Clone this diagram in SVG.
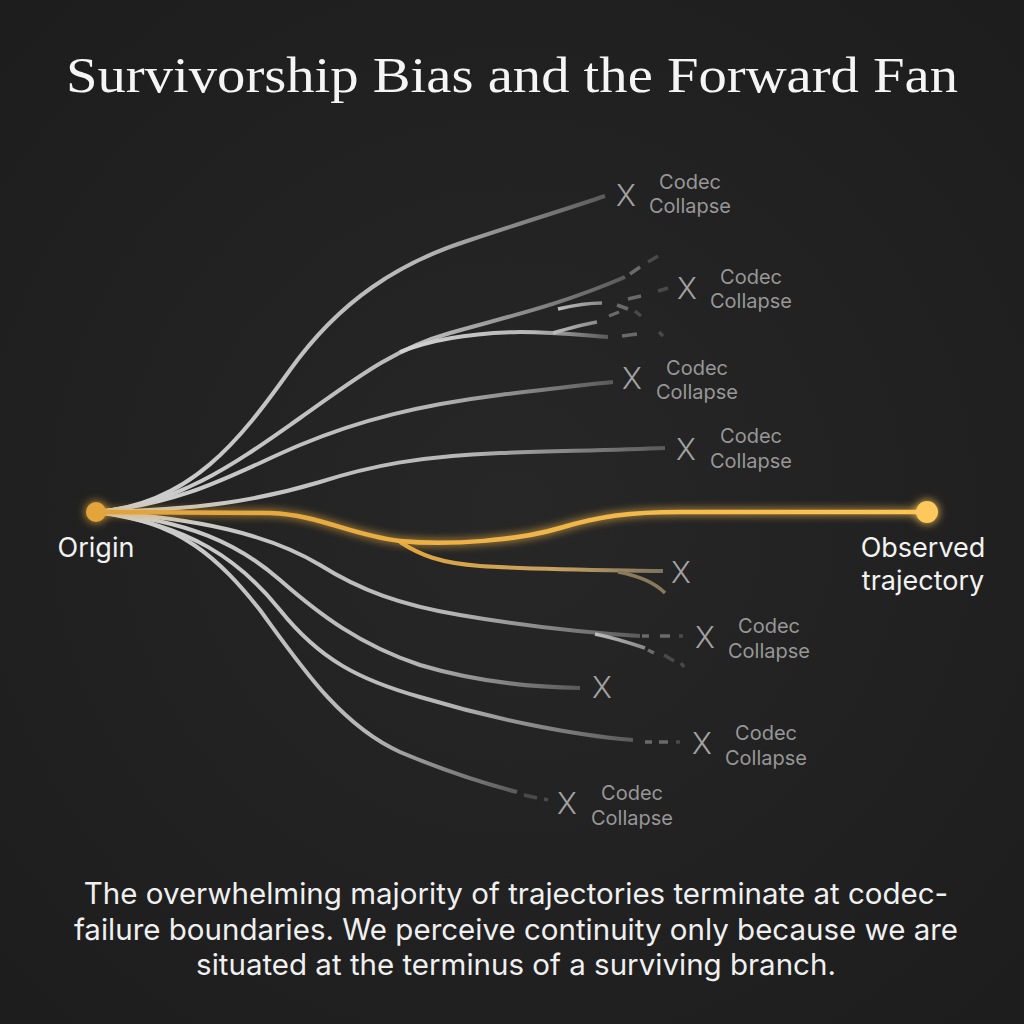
<svg xmlns="http://www.w3.org/2000/svg" width="1024" height="1024" viewBox="0 0 1024 1024">
<defs>
  <radialGradient id="bg" cx="50%" cy="50%" r="75%">
    <stop offset="0" stop-color="#272727"/>
    <stop offset="1" stop-color="#1c1c1c"/>
  </radialGradient>
  <linearGradient id="fade" x1="0" y1="0" x2="1" y2="0">
    <stop offset="0" stop-color="#d2d2d2"/>
    <stop offset="0.65" stop-color="#b6b6b6"/>
    <stop offset="1" stop-color="#5a5a5a"/>
  </linearGradient>
  <linearGradient id="fade2" x1="0" y1="0" x2="1" y2="0">
    <stop offset="0" stop-color="#bdbdbd"/>
    <stop offset="1" stop-color="#8a8a8a"/>
  </linearGradient>
  <linearGradient id="goldfade" x1="0" y1="0" x2="1" y2="0">
    <stop offset="0" stop-color="#e3a63c"/>
    <stop offset="0.6" stop-color="#c7a060"/>
    <stop offset="1" stop-color="#7d7360"/>
  </linearGradient>
  <linearGradient id="goldmain" x1="0" y1="0" x2="1" y2="0">
    <stop offset="0" stop-color="#e0a23a"/>
    <stop offset="1" stop-color="#ffc655"/>
  </linearGradient>
  <filter id="glow" x="-20%" y="-50%" width="140%" height="200%">
    <feGaussianBlur in="SourceGraphic" stdDeviation="4" result="b"/>
    <feMerge><feMergeNode in="b"/><feMergeNode in="SourceGraphic"/></feMerge>
  </filter>
  <filter id="dotglow" x="-200%" y="-200%" width="500%" height="500%">
    <feGaussianBlur in="SourceGraphic" stdDeviation="5" result="b"/>
    <feMerge><feMergeNode in="b"/><feMergeNode in="SourceGraphic"/></feMerge>
  </filter>
  <style>
    .br{fill:none;stroke:url(#fade);stroke-width:4;stroke-linecap:butt}
    .sb{fill:none;stroke:url(#fade2);stroke-width:3.5}
    .d{fill:none;stroke:#6a6a6a;stroke-width:3.5}
    .d2{fill:none;stroke:#4a4a4a;stroke-width:3.5}
    .x{font-family:Inter,"Liberation Sans",sans-serif;font-size:30px;font-weight:300;fill:#a2a2a2;text-anchor:middle}
    .lab{font-family:Inter,"Liberation Sans",sans-serif;font-size:20px;fill:#979797;text-anchor:middle}
    .w{font-family:Inter,"Liberation Sans",sans-serif;font-size:27px;fill:#f2f2f2;text-anchor:middle}
    .cap{font-family:Inter,"Liberation Sans",sans-serif;font-size:29.5px;fill:#f0f0f0;text-anchor:middle}
  </style>
</defs>
<rect width="1024" height="1024" fill="url(#bg)"/>

<text x="512" y="92" text-anchor="middle" font-family="'Liberation Serif','DejaVu Serif',serif" font-size="50" fill="#f5f5f5" textLength="892" lengthAdjust="spacingAndGlyphs">Survivorship Bias and the Forward Fan</text>

<g id="connectors">
  <!-- upper branches -->
  <path class="br" d="M96,512 C190,505 240,440 290,370 C340,300 400,262 470,240 C530,220 570,208 605,196"/>
  <path class="br" d="M96,512 C180,505 240,460 300,418 C350,383 390,350 450,333 C510,316 560,305 625,277"/>
  <path class="sb" d="M558,309 C575,305 590,303 602,303"/>
  <path class="br" d="M400,352 C430,340 470,333 520,332 C560,332 590,336 608,337"/>
  <path class="sb" d="M553,333 C570,328 585,324 597,322"/>
  <path class="br" d="M96,512 C190,503 240,470 300,445 C360,420 420,405 500,395 C560,388 590,384 613,382"/>
  <path class="br" d="M96,512 C200,510 260,500 320,482 C370,466 420,456 500,453 C560,451 620,450 665,448"/>
  <!-- dashes upper -->
  <path class="d" d="M630,274 L640,267"/>
  <path class="d2" d="M648,262 L658,256"/>
  <path class="d" d="M628,299 L641,296"/>
  <path class="d2" d="M658,291 L668,288"/>
  <path class="d" d="M609,316 L619,312"/>
  <path class="d" d="M617,305 L628,309"/>
  <path class="d2" d="M635,311 L641,316"/>
  <path class="d" d="M622,336 L637,334"/>
  <path class="d2" d="M659,332 L663,336"/>

  <!-- lower branches -->
  <path class="br" d="M96,512 C200,518 270,535 320,565 C360,590 400,605 460,615 C530,627 590,633 640,636"/>
  <path class="sb" d="M595,634 C615,638 630,643 645,648"/>
  <path class="br" d="M96,512 C190,520 240,545 280,580 C320,615 360,645 420,665 C470,680 520,687 580,688"/>
  <path class="br" d="M96,512 C190,525 240,560 280,610 C320,660 360,680 420,697 C490,718 570,735 633,740"/>
  <path class="br" d="M96,512 C180,520 220,560 260,610 C300,665 340,725 400,752 C450,773 490,785 517,792"/>
  <!-- dashes lower -->
  <path class="d" d="M642,636 L649,636"/>
  <path class="d" d="M660,636 L670,636"/>
  <path class="d2" d="M679,636 L683,636"/>
  <path class="d" d="M648,650 L654,653"/>
  <path class="d2" d="M664,655 L674,661"/>
  <path class="d2" d="M681,663 L684,667"/>
  <path class="d" d="M645,742 L652,742"/>
  <path class="d" d="M659,742 L668,742"/>
  <path class="d2" d="M676,742 L680,742"/>
  <path class="d2" d="M524,795 L537,798"/>
  <path class="d2" d="M544,799 L548,800"/>

  <!-- golden branch -->
  <path fill="none" stroke="url(#goldfade)" stroke-width="4" d="M400,542 C420,555 440,563 480,566 C540,570 600,570 663,571"/>
  <path fill="none" stroke="#8a7a5c" stroke-width="3.5" d="M618,572 C640,576 655,583 665,593"/>
  <!-- golden main -->
  <path fill="none" stroke="url(#goldmain)" stroke-width="4.5" filter="url(#glow)" d="M96,512 L270,513 C320,515 350,535 400,541 C450,546 520,540 560,528 C600,516 630,512 680,512 L925,512"/>
</g>

<g id="origin">
  <circle cx="96" cy="512" r="10" fill="#e3a43a" filter="url(#dotglow)"/>
  <text class="w" x="96" y="557">Origin</text>
</g>
<g id="observed">
  <circle cx="927" cy="512" r="11" fill="#ffc85c" filter="url(#dotglow)"/>
  <text class="w" x="923" y="557">Observed</text>
  <text class="w" x="923" y="590">trajectory</text>
</g>

<g id="c1"><text class="x" x="626" y="206">X</text><text class="lab" x="690" y="189">Codec</text><text class="lab" x="690" y="213">Collapse</text></g>
<g id="c2"><text class="x" x="687" y="299">X</text><text class="lab" x="751" y="284">Codec</text><text class="lab" x="751" y="308">Collapse</text></g>
<g id="c3"><text class="x" x="632" y="389">X</text><text class="lab" x="697" y="375">Codec</text><text class="lab" x="697" y="399">Collapse</text></g>
<g id="c4"><text class="x" x="686" y="460">X</text><text class="lab" x="751" y="443">Codec</text><text class="lab" x="751" y="468">Collapse</text></g>
<g id="c5"><text class="x" x="681" y="583">X</text></g>
<g id="c6"><text class="x" x="705" y="648">X</text><text class="lab" x="769" y="633">Codec</text><text class="lab" x="769" y="658">Collapse</text></g>
<g id="c7"><text class="x" x="602" y="698">X</text></g>
<g id="c8"><text class="x" x="702" y="754">X</text><text class="lab" x="766" y="740">Codec</text><text class="lab" x="766" y="765">Collapse</text></g>
<g id="c9"><text class="x" x="567" y="814">X</text><text class="lab" x="632" y="800">Codec</text><text class="lab" x="632" y="825">Collapse</text></g>

<g id="caption">
  <text class="cap" x="516" y="904">The overwhelming majority of trajectories terminate at codec-</text>
  <text class="cap" x="516" y="940">failure boundaries. We perceive continuity only because we are</text>
  <text class="cap" x="516" y="975">situated at the terminus of a surviving branch.</text>
</g>
</svg>
